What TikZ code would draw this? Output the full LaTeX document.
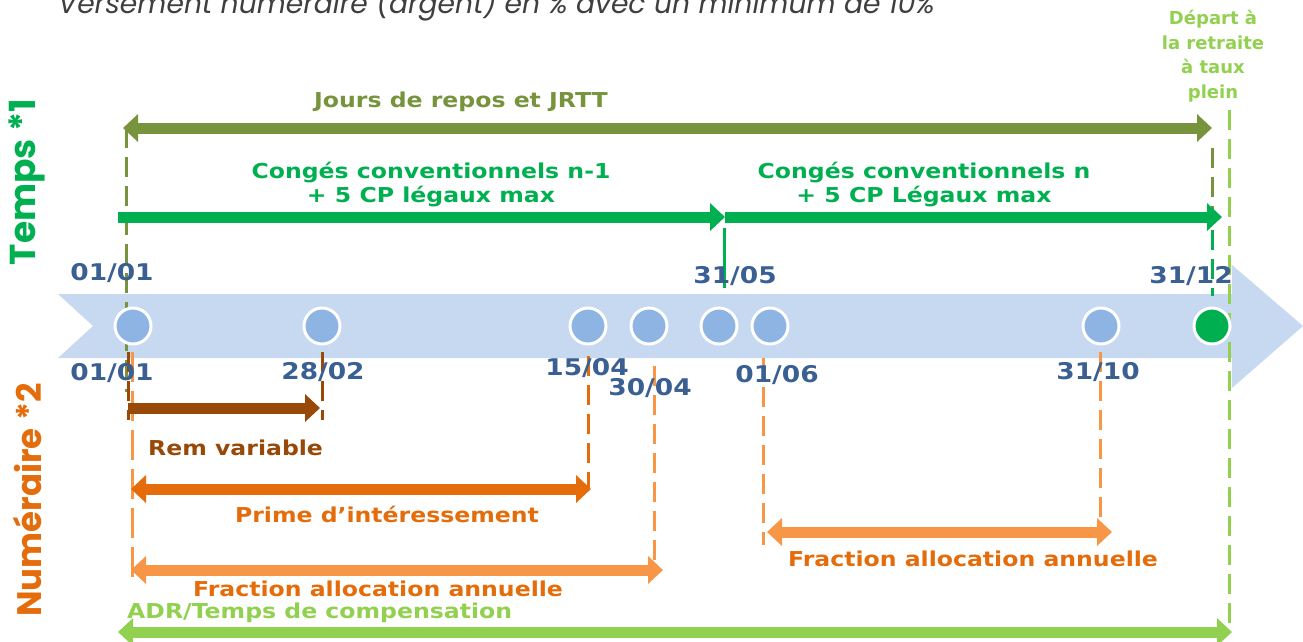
\documentclass[tikz,border=0pt]{standalone}
\usepackage{fontspec}
\setmainfont{DejaVu Sans}
\newfontfamily\verd[FakeStretch=1.15]{DejaVu Sans}
\newfontfamily\gothic{Poppins}
\usetikzlibrary{arrows.meta}
\definecolor{olivec}{HTML}{77933C}
\definecolor{vertc}{HTML}{00B050}
\definecolor{lvertc}{HTML}{92D050}
\definecolor{bandec}{HTML}{C6D9F1}
\definecolor{disquec}{HTML}{8DB4E2}
\definecolor{datec}{HTML}{3A5F92}
\definecolor{brunc}{HTML}{984807}
\definecolor{orangea}{HTML}{E46C0A}
\definecolor{orangeb}{HTML}{F79646}
\definecolor{grisc}{HTML}{3F3F3F}
\tikzset{
  dot/.style={circle, minimum size=36pt, inner sep=0pt, fill=disquec, draw=white, line width=3pt},
  datelbl/.style={text=datec, font=\verd\bfseries\fontsize{23}{23}\selectfont, inner sep=0pt},
  lbl/.style={font=\verd\bfseries\fontsize{20.5}{24}\selectfont, inner sep=0pt, align=center},
  dashv/.style={line width=3pt, dash pattern=on 20pt off 9pt},
  thick arrow/.style={line width=11pt},
  tip/.tip={Triangle[length=15pt,width=27pt]},
}
\begin{document}
\begin{tikzpicture}[x=1pt,y=-1pt]
\useasboundingbox (0,0) rectangle (1303,641);
\clip (0,0) rectangle (1303,641);
% top cut text
\node[anchor=base west, inner sep=0pt, text=grisc, font=\gothic\itshape\fontsize{28.2}{28}\selectfont] (titre) at (58,13) {Versement numéraire (argent) en \% avec un minimum de 10\%};
% band arrow
\fill[bandec] (58,294) -- (1232,294) -- (1232,265) -- (1303,326) -- (1232,388) -- (1232,358) -- (58,358) -- (93,326) -- cycle;
% side titles
\node[rotate=90, text=vertc, font=\gothic\bfseries\fontsize{36}{36}\selectfont, inner sep=0pt] (temps) at (27,182) {Temps *1};
\node[rotate=90, text=orangea, font=\gothic\bfseries\fontsize{34}{34}\selectfont, inner sep=0pt] (num) at (27,500) {Numéraire *2};
% depart
\node[inner sep=0pt, align=center, text=lvertc, font=\bfseries\fontsize{18}{24.5}\selectfont] (depart) at (1213,56) {Départ à\\la retraite\\à taux\\plein};
% coordinates
\coordinate (jl) at (123,128); \coordinate (jr) at (1212,128);
\coordinate (cl) at (118,217); \coordinate (cm) at (725,217); \coordinate (cr) at (1222,217);
% vertical dashed lines
\draw[dashv, olivec] (126,128) -- (126,392);
\draw[dashv, olivec] (1212,148) -- (1212,215);
\draw[line width=3pt, vertc, dash pattern=on 60pt off 8pt] (724,228) -- (724,290);
\draw[dashv, vertc] (1212,230) -- (1212,296);
\draw[dashv, lvertc] (1229,110) -- (1229,632);
\draw[dashv, brunc] (128,352) -- (128,420);
\draw[dashv, brunc] (322,352) -- (322,420);
\draw[dashv, orangeb, dash pattern=on 30pt off 9pt] (132,352) -- (132,578);
\draw[dashv, orangea] (588,356) -- (588,490);
\draw[dashv, orangeb] (654,366) -- (654,570);
\draw[dashv, orangeb] (763,358) -- (763,545);
\draw[dashv, orangeb] (1100,352) -- (1100,532);
% olive arrow
\draw[thick arrow, olivec, tip-tip] (jl) -- (jr);
\node[lbl, text=olivec] (jours) at (461,102) {Jours de repos et JRTT};
% green arrows
\draw[thick arrow, vertc, -tip] (cl) -- (cm);
\draw[thick arrow, vertc, -tip] (cm) -- (cr);
\node[lbl, text=vertc] (cn1) at (431,185) {Congés conventionnels n-1\\+ 5 CP légaux max};
\node[lbl, text=vertc] (cn) at (924,185) {Congés conventionnels n\\+ 5 CP Légaux max};
% dots
\node[dot] (p0101) at (133,326) {};
\node[dot] (p2802) at (322,326) {};
\node[dot] (p1504) at (588,326) {};
\node[dot] (p3004) at (649,326) {};
\node[dot] (p3105) at (719,326) {};
\node[dot] (p0106) at (770,326) {};
\node[dot] (p3110) at (1101,326) {};
\node[dot, fill=vertc] (p3112) at (1212,326) {};
% date labels
\node[datelbl] (t0101) at (112,273) {01/01};
\node[datelbl] (t3105) at (735,276) {31/05};
\node[datelbl] (t3112) at (1191,276) {31/12};
\node[datelbl] (b0101) at (112,373) {01/01};
\node[datelbl] (b2802) at (323,372) {28/02};
\node[datelbl] (b1504) at (587,368) {15/04};
\node[datelbl] (b3004) at (650,388) {30/04};
\node[datelbl] (b0106) at (777,375) {01/06};
\node[datelbl] (b3110) at (1098,372) {31/10};
% rem variable
\coordinate (rl) at (128,408); \coordinate (rr) at (320,408);
\draw[thick arrow, brunc, -tip] (rl) -- (rr);
\node[lbl, text=brunc, anchor=west] (rem) at (148,448) {Rem variable};
% prime
\coordinate (pl) at (131,489); \coordinate (pr) at (591,489);
\draw[thick arrow, orangea, tip-tip] (pl) -- (pr);
\node[lbl, text=orangea] (prime) at (387,514) {Prime d’intéressement};
% fraction 1
\coordinate (fl) at (131,570); \coordinate (fr) at (663,570);
\draw[thick arrow, orangeb, tip-tip] (fl) -- (fr);
\node[lbl, text=orangea] (frac1) at (378,589) {Fraction allocation annuelle};
% fraction 2
\coordinate (gl) at (767,532); \coordinate (gr) at (1112,532);
\draw[thick arrow, orangeb, tip-tip] (gl) -- (gr);
\node[lbl, text=orangea] (frac2) at (973,559) {Fraction allocation annuelle};
% ADR
\node[lbl, text=lvertc, anchor=west] (adr) at (127,613) {ADR/Temps de compensation};
\coordinate (al) at (118,632); \coordinate (ar) at (1232,632);
\draw[thick arrow, lvertc, tip-tip] (al) -- (ar);
\end{tikzpicture}
\end{document}
